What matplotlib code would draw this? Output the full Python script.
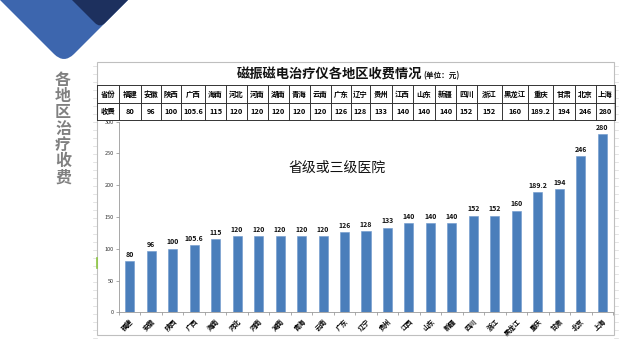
import matplotlib
matplotlib.use('Agg')
import matplotlib.pyplot as plt
from matplotlib.patches import PathPatch, Rectangle
from matplotlib.path import Path

plt.rcParams['font.family'] = ['Noto Sans CJK SC', 'DejaVu Sans']

# ---------------- data ----------------
provinces = ['福建', '安徽', '陕西', '广西', '海南', '河北', '河南', '湖南', '青海', '云南',
             '广东', '辽宁', '贵州', '江西', '山东', '新疆', '四川', '浙江', '黑龙江', '重庆',
             '甘肃', '北京', '上海']
fees = [80, 96, 100, 105.6, 115, 120, 120, 120, 120, 120,
        126, 128, 133, 140, 140, 140, 152, 152, 160, 189.2,
        194, 246, 280]
y_ticks = [0, 50, 100, 150, 200, 250, 300]
side_title = '各地区治疗收费'
chart_title = '磁振磁电治疗仪各地区收费情况'
unit_text = '(单位：元)'
note_text = '省级或三级医院'
row_headers = ['省份', '收费']

# ---------------- layout ----------------
W, H = 640, 360
fig = plt.figure(figsize=(W / 100, H / 100), dpi=100)
fig.patch.set_facecolor('white')


def px_axes(x0, y0, x1, y1):
    return fig.add_axes([x0 / W, 1 - y1 / H, (x1 - x0) / W, (y1 - y0) / H])


bg = px_axes(0, 0, W, H)
bg.set_xlim(0, W)
bg.set_ylim(H, 0)
bg.axis('off')

# decorative chevrons
light = '#3d66ae'
dark = '#1d305e'
verts = [(-2, -2), (0, 0), (54, 54), (64, 64), (74, 54), (130, -2), (-2, -2)]
codes = [Path.MOVETO, Path.LINETO, Path.LINETO, Path.CURVE3, Path.CURVE3, Path.LINETO, Path.CLOSEPOLY]
bg.add_patch(PathPatch(Path(verts, codes), facecolor=light, edgecolor='none', zorder=1))
verts2 = [(70, -2), (72, 0), (95, 23), (100, 28), (105, 23), (130, -2), (70, -2)]
bg.add_patch(PathPatch(Path(verts2, codes), facecolor=dark, edgecolor='none', zorder=2))

# vertical side title
for k, ch in enumerate(side_title):
    bg.text(63, 80 + k * 16.2, ch, ha='center', va='center', fontsize=11.5,
            fontweight='bold', color='#808080')

# faint spreadsheet row marks along the frame edges
for yy in range(66, 340, 8):
    bg.plot([93, 97], [yy, yy], color='#d9d9d9', lw=0.5, zorder=0)
    bg.plot([614, 618], [yy, yy], color='#d9d9d9', lw=0.5, zorder=0)
bg.plot([97, 97], [258, 268], color='#8cc63f', lw=1.2, zorder=4)

# chart frame
bg.add_patch(Rectangle((97, 62), 517, 273, facecolor='white', edgecolor='#bfbfbf', lw=0.8, zorder=1))

# title
bg.text(330, 75, chart_title, ha='center', va='center', fontsize=9.5, fontweight='bold', color='#111111')
bg.text(423, 76, unit_text, ha='left', va='center', fontsize=5.5, fontweight='bold', color='#111111')

# table
col_edges = [97, 119, 141, 161, 181, 205, 226, 247, 268, 289, 310, 331, 351, 370,
             392, 413, 435, 456, 477, 502, 528, 553, 575, 596, 615]
row_edges = [85, 103, 120]
lc = '#333333'
for y in row_edges:
    bg.plot([col_edges[0], col_edges[-1]], [y, y], color=lc, lw=0.7, zorder=3)
for x in col_edges:
    bg.plot([x, x], [row_edges[0], row_edges[-1]], color=lc, lw=0.7, zorder=3)
ymid_h = (row_edges[0] + row_edges[1]) / 2
ymid_v = (row_edges[1] + row_edges[2]) / 2
cx0 = (col_edges[0] + col_edges[1]) / 2
bg.text(cx0, ymid_h, row_headers[0], ha='center', va='center', fontsize=5.3, fontweight='bold')
bg.text(cx0, ymid_v, row_headers[1], ha='center', va='center', fontsize=5.3, fontweight='bold')
for i, (p, v) in enumerate(zip(provinces, fees)):
    cx = (col_edges[i + 1] + col_edges[i + 2]) / 2
    bg.text(cx, ymid_h, p, ha='center', va='center', fontsize=5.3, fontweight='bold')
    bg.text(cx, ymid_v, f'{v:g}', ha='center', va='center', fontsize=5.3, fontweight='bold')

# ---------------- bar chart ----------------
ax = px_axes(119, 121.7, 613, 312.3)
ax.patch.set_alpha(0)
x = list(range(len(provinces)))
ax.bar(x, fees, width=0.42, color='#4a7ebb', edgecolor='#6d97cc', lw=0.4, zorder=2)
for i, v in enumerate(fees):
    ax.annotate(f'{v:g}', (i, v), xytext=(0, 2.5), textcoords='offset points',
                ha='center', va='bottom', fontsize=5, fontweight='bold', color='#111111')
ax.set_xlim(-0.5, len(provinces) - 0.5)
ax.set_ylim(0, 300)
ax.set_yticks(y_ticks)
ax.set_yticklabels([str(t) for t in y_ticks], fontsize=4, color='#333333')
ax.set_xticks(x)
ax.set_xticklabels(provinces, rotation=45, ha='right', va='top', rotation_mode='anchor',
                   fontsize=4.8, fontweight='bold')
ax.set_xticks([i - 0.5 for i in range(len(provinces) + 1)], minor=True)
ax.tick_params(axis='x', which='major', length=0, pad=4)
ax.tick_params(axis='x', which='minor', length=2.5, color='#888888', width=0.5)
ax.tick_params(axis='y', length=2, color='#888888', width=0.5, pad=1.5)
for s in ['top', 'right']:
    ax.spines[s].set_visible(False)
for s in ['left', 'bottom']:
    ax.spines[s].set_color('#999999')
    ax.spines[s].set_linewidth(0.6)

ax.text(9.65, 227, note_text, ha='center', va='center', fontsize=10, fontweight='medium', color='#111111')

fig.savefig('out.png', dpi=100, facecolor='white')
